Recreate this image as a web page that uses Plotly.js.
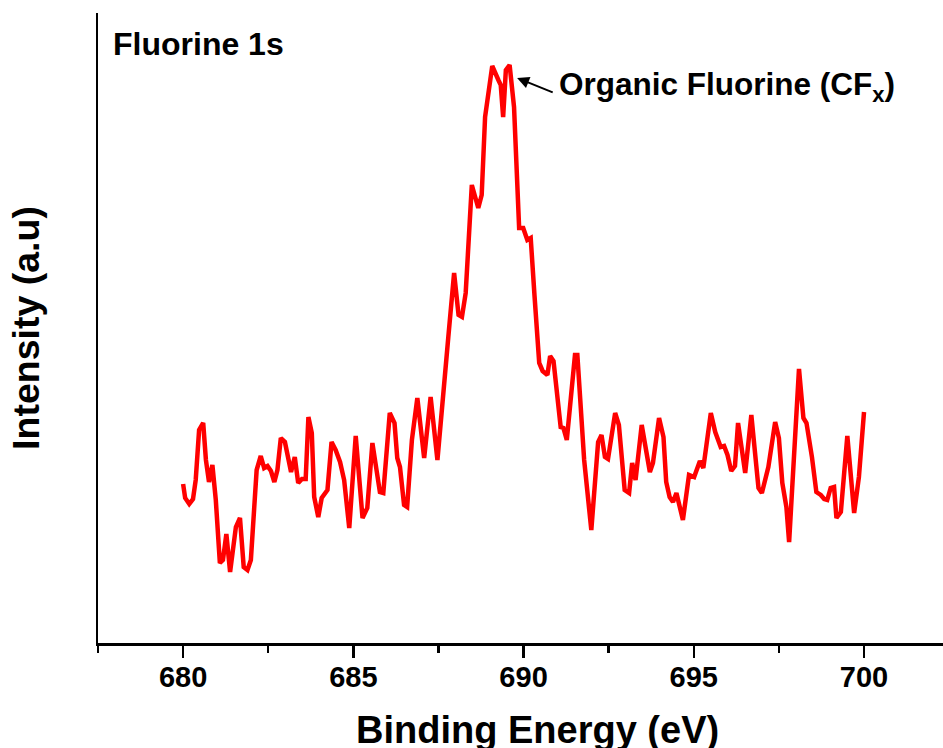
<!DOCTYPE html>
<html>
<head>
<meta charset="utf-8">
<script src="https://cdn.plot.ly/plotly-3.0.1.min.js"></script>
<style>
  html, body { margin: 0; padding: 0; background: #fff; }
  #chart { width: 943px; height: 748px; }
</style>
</head>
<body>
<div id="chart"></div>
<script>
// F 1s XPS spectrum: binding energy (eV) vs. intensity (arbitrary units)
const bindingEnergy = [
  680.00, 680.06, 680.18, 680.29, 680.37, 680.47, 680.59, 680.67, 680.76, 680.86,
  680.96, 681.08, 681.17, 681.27, 681.38, 681.55, 681.67, 681.78, 681.89, 681.99,
  682.16, 682.28, 682.38, 682.48, 682.58, 682.68, 682.77, 682.87, 682.99, 683.08,
  683.17, 683.28, 683.38, 683.49, 683.60, 683.68, 683.78, 683.85, 683.97, 684.07,
  684.24, 684.36, 684.48, 684.61, 684.73, 684.88, 685.07, 685.27, 685.41, 685.56,
  685.78, 685.88, 686.07, 686.21, 686.29, 686.37, 686.49, 686.58, 686.72, 686.88,
  687.08, 687.27, 687.47, 687.79, 687.96, 688.09, 688.19, 688.30, 688.48, 688.67,
  688.77, 688.87, 688.94, 689.08, 689.26, 689.33, 689.40, 689.48, 689.59, 689.72,
  689.87, 689.99, 690.11, 690.21, 690.32, 690.46, 690.56, 690.70, 690.78, 690.88,
  691.09, 691.17, 691.27, 691.51, 691.58, 691.78, 691.99, 692.19, 692.29, 692.39,
  692.48, 692.69, 692.80, 692.97, 693.10, 693.19, 693.29, 693.47, 693.71, 693.80,
  693.98, 694.11, 694.19, 694.29, 694.39, 694.49, 694.68, 694.86, 695.01, 695.18,
  695.28, 695.50, 695.63, 695.79, 695.89, 695.99, 696.10, 696.21, 696.30, 696.51,
  696.69, 696.90, 697.00, 697.19, 697.39, 697.50, 697.60, 697.72, 697.80, 698.09,
  698.22, 698.31, 698.47, 698.60, 698.73, 698.83, 698.92, 699.02, 699.12, 699.19,
  699.32, 699.51, 699.71, 699.85, 700.00
];

const intensity = [
  159, 145, 139, 144, 163, 213, 220, 183, 161, 178,
  143,  80,  83, 109,  71, 116, 125,  76,  73,  83,
  173, 187, 175, 177, 172, 161, 173, 205, 201, 183,
  171, 186, 160, 164, 164, 226, 210, 146, 126, 145,
  153, 201, 193, 181, 163, 115, 207, 125, 135, 200,
  151, 150, 230, 220, 185, 176, 138, 136, 203, 245,
  185, 246, 183, 306, 370, 328, 326, 350, 458, 435,
  448, 526, 546, 577, 563, 558, 526, 573, 578, 536,
  415, 415, 403, 405, 348, 280, 272, 268, 287, 282,
  216, 215, 203, 288, 288, 183, 113, 201, 208, 186,
  184, 230, 218, 153, 150, 180, 163, 218, 171, 180,
  225, 206, 161, 146, 141, 150, 123, 168, 166, 182,
  175, 230, 211, 196, 197, 188, 172, 177, 220, 170,
  228, 155, 150, 176, 221, 205, 160, 136, 101, 274,
  225, 220, 186, 151, 148, 144, 143, 155, 156, 125,
  131, 207, 130, 166, 231
];

// Axis settings
const xRange = [677.5, 702.32];
const yRange = [0, 630];
const xTick0 = 680;
const xMajorStep = 5;
const xMinorStep = 2.5;

// Text
const xTitle = 'Binding Energy (eV)';
const yTitle = 'Intensity (a.u)';
const peakLabel = 'Organic Fluorine (CF<sub>x</sub>)';
const panelLabel = 'Fluorine 1s';

// Peak label: arrow head on the CFx maximum, tail at the label
const peakHead = [689.81, 565];
const peakTail = [690.90, 550];

const font = 'Liberation Sans, Arial, sans-serif';

const trace = {
  x: bindingEnergy,
  y: intensity,
  type: 'scatter',
  mode: 'lines',
  line: { color: '#ff0000', width: 4.5, shape: 'linear' },
  hoverinfo: 'x+y',
  showlegend: false
};

const layout = {
  width: 943,
  height: 748,
  margin: { l: 98, r: 0, t: 13, b: 105 },
  paper_bgcolor: '#ffffff',
  plot_bgcolor: '#ffffff',
  font: { family: font, color: '#000000' },
  xaxis: {
    range: xRange,
    tick0: xTick0,
    dtick: xMajorStep,
    ticks: 'outside',
    ticklen: 12,
    tickwidth: 2.5,
    tickcolor: '#000',
    ticklabelstandoff: -5,
    showline: true,
    linewidth: 2.5,
    linecolor: '#000',
    showgrid: false,
    zeroline: false,
    tickfont: { family: font, size: 29, color: '#000', weight: 'bold' },
    minor: { dtick: xMinorStep, tick0: xTick0, ticks: 'outside', ticklen: 7, tickwidth: 2.5, tickcolor: '#000', showgrid: false }
  },
  yaxis: {
    range: yRange,
    showticklabels: false,
    ticks: '',
    showline: true,
    linewidth: 2.5,
    linecolor: '#000',
    showgrid: false,
    zeroline: false,
    title: { text: yTitle, font: { family: font, size: 37.5, color: '#000', weight: 'bold' }, standoff: 45 }
  },
  annotations: [
    {
      // x-axis title, set slightly right of the plot centre
      xref: 'paper', yref: 'paper', x: 0.52, y: -0.138,
      xanchor: 'center', yanchor: 'middle',
      text: xTitle, showarrow: false,
      font: { family: font, size: 38, color: '#000', weight: 'bold' }
    },
    {
      xref: 'paper', yref: 'paper', x: 0.015, y: 0.951,
      xanchor: 'left', yanchor: 'middle',
      text: panelLabel, showarrow: false,
      font: { family: font, size: 32, color: '#000', weight: 'bold' }
    },
    {
      xref: 'x', yref: 'y', x: 690.98, y: 557,
      xanchor: 'left', yanchor: 'middle',
      text: peakLabel, showarrow: false,
      font: { family: font, size: 31.5, color: '#000', weight: 'bold' }
    },
    {
      xref: 'x', yref: 'y', axref: 'x', ayref: 'y',
      x: peakHead[0], y: peakHead[1], ax: peakTail[0], ay: peakTail[1],
      text: '', showarrow: true,
      arrowhead: 2, arrowsize: 1.2, arrowwidth: 2, arrowcolor: '#000'
    }
  ]
};

Plotly.newPlot('chart', [trace], layout, { displayModeBar: false, staticPlot: true });
</script>
</body>
</html>
